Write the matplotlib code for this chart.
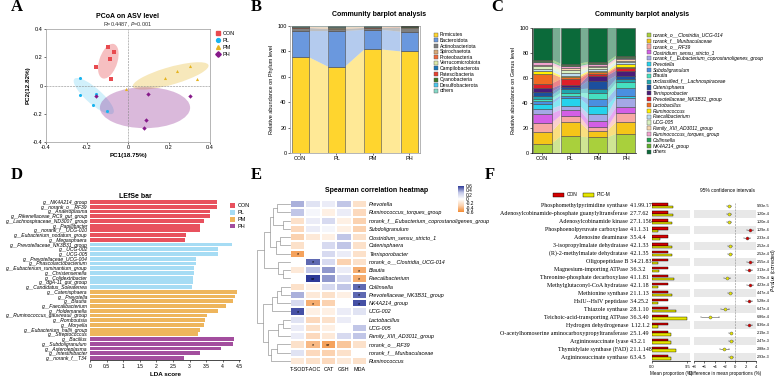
import matplotlib.pyplot as plt
import numpy as np
from matplotlib.patches import Ellipse, Patch
from matplotlib.lines import Line2D
from matplotlib.colors import LinearSegmentedColormap

# ---------------- data ----------------
groups = ["CON", "PL", "PM", "PH"]

# A: PCoA
con_pc1 = [-0.096, -0.067, -0.088, -0.158, -0.085]
con_pc2 = [0.275, 0.234, 0.189, 0.130, 0.046]
pl_pc1 = [-0.234, -0.236, -0.158, -0.169, -0.101]
pl_pc2 = [0.056, -0.065, -0.060, -0.139, -0.179]
pm_pc1 = [-0.010, 0.179, 0.239, 0.301, 0.335]
pm_pc2 = [-0.027, 0.056, 0.101, 0.141, 0.049]
ph_pc1 = [-0.156, 0.096, 0.302, 0.086, 0.078]
ph_pc2 = [-0.072, -0.063, -0.075, -0.243, -0.298]
# ellipse centre x, centre y, width, height, angle
ell_cx = [-0.096, -0.167, 0.208, 0.083]
ell_cy = [0.172, -0.075, 0.068, -0.157]
ell_w = [0.25, 0.31, 0.40, 0.44]
ell_h = [0.09, 0.09, 0.12, 0.29]
ell_ang = [79, -54, 23.5, 0]

# B: phylum
phyla = ["Firmicutes", "Bacteroidota", "Actinobacteriota", "Spirochaetota",
         "Proteobacteria", "Verrucomicrobiota", "Campilobacterota",
         "Patescibacteria", "Cyanobacteria", "Desulfobacterota", "others"]
phylum_vals = [
    [75.5, 68.0, 81.5, 80.0],
    [20.5, 28.0, 15.5, 15.5],
    [2.4, 1.6, 1.5, 3.3],
    [0.3, 0.8, 0.2, 0.2],
    [0.3, 0.3, 0.3, 0.3],
    [0.2, 0.4, 0.2, 0.1],
    [0.1, 0.2, 0.1, 0.1],
    [0.1, 0.1, 0.1, 0.1],
    [0.1, 0.1, 0.1, 0.1],
    [0.1, 0.1, 0.1, 0.1],
    [0.4, 0.4, 0.4, 0.2],
]
phylum_colors = ["#FFD52E", "#6A98DE", "#7F7F7F", "#D8A978", "#F06A3C", "#DDE8A8",
                 "#1A75B8", "#E8412F", "#3C7A26", "#4DC8EE", "#86D9C8"]

# C: genus
genera = ["norank_o__Clostridia_UCG-014", "norank_f__Muribaculaceae", "norank_o__RF39",
          "Clostridium_sensu_stricto_1", "norank_f__Eubacterium_coprostanoligenes_group",
          "Prevotella", "Subdoligranulum", "Blautia", "unclassified_f__Lachnospiraceae",
          "Catenisphaera", "Terrisporobacter", "Prevotellaceae_NK3B31_group",
          "Lactobacillus", "Ruminococcus", "Faecalibacterium", "UCG-005",
          "Family_XIII_AD3011_group", "Ruminococcus_torques_group", "Collinsella",
          "NK4A214_group", "others"]
genus_vals = [
    [7.5, 13.3, 12.5, 15.5],
    [9.3, 11.2, 5.5, 9.5],
    [7.2, 5.5, 2.5, 7.0],
    [7.5, 4.5, 5.5, 5.0],
    [4.0, 3.5, 5.0, 7.0],
    [3.5, 6.0, 7.0, 2.0],
    [2.5, 2.0, 5.5, 6.0],
    [2.0, 2.0, 4.5, 4.5],
    [2.5, 3.0, 3.5, 3.0],
    [2.7, 2.0, 6.5, 2.5],
    [3.0, 1.5, 4.0, 4.0],
    [3.8, 4.5, 1.5, 2.0],
    [8.0, 1.5, 1.0, 1.0],
    [1.8, 1.5, 1.0, 2.0],
    [2.0, 2.0, 1.5, 1.5],
    [2.0, 2.5, 1.5, 1.5],
    [1.2, 1.5, 1.0, 1.0],
    [2.0, 1.5, 1.5, 1.0],
    [1.0, 1.0, 1.0, 1.0],
    [1.3, 1.0, 1.0, 1.0],
    [25.2, 28.5, 27.0, 22.0],
]
genus_colors = ["#A9D03C", "#F5C518", "#F7A8A4", "#D35FE6", "#A4A8E6", "#25D2EC",
                "#4A8FE0", "#45E0C0", "#1FA6AE", "#1B4F9E", "#4A1B78", "#DD1F2A",
                "#F06A22", "#FFF000", "#BCDDF0", "#D8F0C0", "#F7D6AE", "#F2A2CE",
                "#1FA050", "#5FAE2E", "#0B6A3A"]

# D: LEfSe
lefse_names = ["NK4A214_group", "norank_o__RF39", "Anaeroplasma", "Rikenellaceae_RC9_gut_group",
               "Lachnospiraceae_ND3007_group", "Papillibacter", "norank_f__UCG-010",
               "Eubacterium_nodatum_group", "Megasphaera",
               "Prevotellaceae_NK3B31_group", "UCG-002", "UCG-005", "Prevotellaceae_UCG-004",
               "Phascolarctobacterium", "Eubacterium_ruminantium_group", "Christensenella",
               "Colidextribacter", "dgA-11_gut_group", "Candidatus_Soleaferrea",
               "Catenisphaera", "Prevotella", "Blautia", "Faecalibacterium", "Holdemanella",
               "Ruminococcus_gauvreauii_group", "Romboutsia", "Moryella",
               "Eubacterium_hallii_group", "Streptococcus",
               "Bacillus", "Subdoligranulum", "Asteroleplasma", "Intestinibacter", "norank_f__T34"]
lefse_lda = [3.82, 3.82, 3.61, 3.61, 3.43, 3.31, 3.31, 2.89, 2.86,
             4.29, 3.85, 3.85, 3.18, 3.18, 3.13, 3.12, 3.11, 3.09, 3.07,
             4.42, 4.37, 4.30, 4.09, 3.85, 3.54, 3.46, 3.43, 3.32, 3.25,
             4.35, 4.31, 3.95, 3.31, 2.83]
lefse_group = ["CON"] * 9 + ["PL"] * 10 + ["PM"] * 10 + ["PH"] * 5
lefse_colors = {"CON": "#E8515E", "PL": "#A6DCF4", "PM": "#EEB55C", "PH": "#A34E9E"}

# E: Spearman heatmap
heat_rows = ["Prevotella", "Ruminococcus_torques_group",
             "norank_f__Eubacterium_coprostanoligenes_group", "Subdoligranulum",
             "Clostridium_sensu_stricto_1", "Catenisphaera", "Terrisporobacter",
             "norank_o__Clostridia_UCG-014", "Blautia", "Faecalibacterium", "Collinsella",
             "Prevotellaceae_NK3B31_group", "NK4A214_group", "UCG-002", "Lactobacillus",
             "UCG-005", "Family_XIII_AD3011_group", "norank_o__RF39",
             "norank_f__Muribaculaceae", "Ruminococcus"]
heat_cols = ["T-SOD", "T-AOC", "CAT", "GSH", "MDA"]
t_sod = [0.35, 0.30, -0.20, -0.25, -0.30, -0.20, -0.50, 0.00, -0.15, 0.00,
         -0.20, 0.35, 0.20, 0.55, 0.15, 0.10, 0.10, -0.20, 0.15, -0.15]
t_aoc = [0.15, 0.05, 0.10, 0.10, -0.15, 0.00, 0.00, 0.50, 0.30, 0.65,
         -0.10, -0.15, -0.45, -0.10, -0.25, -0.20, -0.25, -0.40, -0.25, -0.20]
cat = [0.10, -0.10, 0.20, 0.05, -0.10, 0.20, 0.20, 0.20, 0.40, 0.40,
       0.20, -0.20, -0.30, -0.10, -0.20, -0.10, -0.15, -0.50, -0.30, -0.25]
gsh = [0.30, 0.10, -0.10, -0.10, 0.30, 0.30, 0.10, -0.30, 0.10, 0.20,
       0.30, -0.10, 0.00, 0.10, 0.10, 0.00, 0.20, -0.35, -0.20, -0.15]
mda = [-0.20, -0.25, -0.30, -0.30, -0.20, -0.20, -0.20, -0.20, -0.45, -0.45,
       0.50, 0.50, 0.55, 0.15, 0.00, 0.30, 0.30, -0.20, 0.00, -0.20]
sig_rows = [6, 7, 8, 9, 9, 10, 11, 12, 12, 13, 17, 17]
sig_cols = [0, 1, 4, 1, 4, 4, 4, 1, 4, 0, 1, 2]
sig_marks = ["*", "*", "*", "**", "*", "*", "*", "*", "*", "*", "*", "**"]
# dendrogram merges: (left, right, height), new clusters numbered from 20
merges = [(0, 1, 0.40), (2, 3, 0.22), (20, 21, 0.52), (4, 5, 0.30), (23, 6, 0.42),
          (22, 24, 0.60), (8, 9, 0.20), (7, 26, 0.36), (25, 27, 0.78), (10, 11, 0.26),
          (29, 12, 0.38), (30, 13, 0.55), (14, 15, 0.22), (32, 16, 0.36), (17, 18, 0.40),
          (34, 19, 0.58), (33, 35, 0.68), (31, 36, 0.82), (28, 37, 1.00)]

# F: STAMP
enz_names = ["Phosphomethylpyrimidine synthase", "Adenosylcobinamide-phosphate guanylyltransferase",
             "Adenosylcobinamide kinase", "Phosphoenolpyruvate carboxylase", "Adenosine deaminase",
             "3-isopropylmalate dehydratase", "(R)-2-methylmalate dehydratase", "Oligopeptidase B",
             "Magnesium-importing ATPase", "Threonine-phosphate decarboxylase",
             "Methylglutaconyl-CoA hydratase", "Methionine synthase", "HslU--HslV peptidase",
             "Thiazole synthase", "Teichoic-acid-transporting ATPase", "Hydrogen dehydrogenase",
             "O-acetylhomoserine aminocarboxypropyltransferase", "Argininosuccinate lyase",
             "Thymidylate synthase (FAD)", "Argininosuccinate synthase"]
enz_ec = ["4.1.99.17", "2.7.7.62", "2.7.1.156", "4.1.1.31", "3.5.4.4", "4.2.1.33", "4.2.1.35",
          "3.4.21.83", "3.6.3.2", "4.1.1.81", "4.2.1.18", "2.1.1.13", "3.4.25.2", "2.8.1.10",
          "3.6.3.40", "1.12.1.2", "2.5.1.49", "4.3.2.1", "2.1.1.148", "6.3.4.5"]
con_mean = [4.4, 4.4, 4.3, 4.4, 4.3, 4.4, 4.4, 4.4, 4.4, 4.3,
            4.4, 4.3, 4.4, 4.4, 4.4, 4.4, 4.3, 4.3, 4.4, 4.3]
picm_mean = [5.6, 5.6, 5.5, 1.5, 2.1, 5.4, 5.4, 1.5, 1.8, 5.9,
             1.5, 5.3, 1.7, 6.4, 9.3, 1.7, 5.2, 5.2, 6.5, 5.2]
diff_mean = [-1.2, -1.2, -1.2, 2.9, 2.2, -1.0, -1.0, 2.9, 2.6, -1.6,
             2.9, -1.0, 2.7, -2.0, -4.9, 2.7, -0.9, -0.9, -2.1, -0.9]
diff_ci = [0.35, 0.35, 0.35, 0.6, 0.6, 0.35, 0.35, 0.6, 0.6, 0.6,
           0.6, 0.35, 0.6, 0.75, 1.8, 0.6, 0.35, 0.4, 0.8, 0.4]
p_values = ["9.93e-5", "1.20e-4", "1.20e-4", "1.29e-4", "2.33e-4", "2.52e-4", "2.52e-4",
            "2.55e-4", "3.13e-4", "3.70e-4", "4.23e-4", "4.47e-4", "5.28e-4", "6.47e-4",
            "6.86e-4", "8.36e-4", "2.19e-3", "2.47e-3", "2.88e-3", "2.93e-3"]

# ---------------- figure ----------------
W, H = 778, 379
plt.rcParams["font.family"] = ["Liberation Sans", "DejaVu Sans"]
plt.rcParams["axes.linewidth"] = 0.5
fig = plt.figure(figsize=(W / 100, H / 100), dpi=100)


def add_ax(x0, y0, x1, y1):
    return fig.add_axes([x0 / W, 1 - y1 / H, (x1 - x0) / W, (y1 - y0) / H])


def ftext(x, y, s, **kw):
    fig.text(x / W, 1 - y / H, s, **kw)


def small_ticks(ax, size=4):
    ax.tick_params(labelsize=size, length=1.5, width=0.4, pad=1)


for letter, (lx, ly) in zip("ABCDEF", [(17, 7), (256, 7), (497, 7), (17, 175), (256, 175), (490, 175)]):
    ftext(lx, ly, letter, fontsize=12, fontweight="bold", family="Liberation Serif",
          ha="center", va="center")

# ---- A ----
pc_colors = ["#E84A4F", "#19B4EF", "#E5B420", "#86198A"]
pc_markers = ["s", "o", "^", "D"]
pc1 = [con_pc1, pl_pc1, pm_pc1, ph_pc1]
pc2 = [con_pc2, pl_pc2, pm_pc2, ph_pc2]
ell_alpha = [0.35, 0.2, 0.3, 0.3]
axA = add_ax(46, 29, 210, 142)
for i in range(4):
    axA.add_patch(Ellipse((ell_cx[i], ell_cy[i]), ell_w[i], ell_h[i], angle=ell_ang[i],
                          facecolor=pc_colors[i], alpha=ell_alpha[i], lw=0))
for i in range(4):
    axA.scatter(pc1[i], pc2[i], s=5, marker=pc_markers[i], color=pc_colors[i], lw=0, zorder=3)
axA.axhline(0, ls="--", color="#888888", lw=0.4)
axA.axvline(0, ls="--", color="#888888", lw=0.4)
axA.set_xlim(-0.4, 0.4)
axA.set_ylim(-0.4, 0.4)
tk = [-0.4, -0.2, 0, 0.2, 0.4]
axA.set_xticks(tk, ["-0.4", "-0.2", "0", "0.2", "0.4"])
axA.set_yticks(tk, ["-0.4", "-0.2", "0", "0.2", "0.4"])
small_ticks(axA)
for s in axA.spines.values():
    s.set_color("#999999")
axA.set_xlabel("PC1(18.75%)", fontsize=4.5, fontweight="bold", labelpad=1.5)
axA.set_ylabel("PC2(12.82%)", fontsize=4.5, fontweight="bold", labelpad=1.5)
ftext(128, 17, "PCoA on ASV level", fontsize=5, fontweight="bold", ha="center", va="center")
ftext(128, 24.5, r"R=0.4487, $\it{P}$=0.001", fontsize=4, ha="center", va="center", color="#333333")
hA = [Line2D([], [], marker=m, color=c, ls="", markersize=2.8) for m, c in zip(pc_markers, pc_colors)]
fig.legend(hA, groups, loc="upper left", bbox_to_anchor=(213 / W, 1 - 28 / H), fontsize=4,
           frameon=False, handlelength=0.8, handletextpad=0.4, labelspacing=0.35, borderpad=0)


def alluvial(ax, vals_list, colors, width, alpha):
    xs = np.arange(len(groups))
    bottoms = np.zeros(len(groups))
    for vals, c in zip(vals_list, colors):
        vals = np.array(vals, dtype=float)
        ax.bar(xs, vals, width, bottom=bottoms, color=c, edgecolor="#4A4A4A", linewidth=0.4, zorder=3)
        for i in range(len(xs) - 1):
            xa = xs[i] + width / 2
            xb = xs[i + 1] - width / 2
            ax.fill([xa, xb, xb, xa],
                    [bottoms[i], bottoms[i + 1], bottoms[i + 1] + vals[i + 1], bottoms[i] + vals[i]],
                    color=c, alpha=alpha, lw=0, zorder=2)
        bottoms += vals


# ---- B ----
axB = add_ax(290, 26, 420, 153)
alluvial(axB, phylum_vals, phylum_colors, 0.47, 0.5)
axB.set_xlim(-0.28, 3.3)
axB.set_ylim(0, 100)
axB.set_xticks(range(4), groups)
axB.set_yticks([0, 20, 40, 60, 80, 100])
small_ticks(axB)
for s in axB.spines.values():
    s.set_color("#999999")
axB.set_ylabel("Relative abundance on Phylum level", fontsize=4, labelpad=2)
ftext(379, 15, "Community barplot analysis", fontsize=5, fontweight="bold", ha="center", va="center")
hB = [Patch(facecolor=c, edgecolor="#555555", lw=0.3) for c in phylum_colors]
fig.legend(hB, phyla, loc="upper left", bbox_to_anchor=(431 / W, 1 - 30 / H), fontsize=3.6,
           frameon=False, handlelength=0.9, handleheight=0.9, handletextpad=0.3,
           labelspacing=0.12, borderpad=0)

# ---- C ----
axC = add_ax(532, 28, 636, 153)
alluvial(axC, genus_vals, genus_colors, 0.68, 0.55)
axC.set_xlim(-0.36, 3.36)
axC.set_ylim(0, 100)
axC.set_xticks(range(4), groups)
axC.set_yticks([0, 20, 40, 60, 80, 100])
small_ticks(axC)
axC.spines["top"].set_visible(False)
axC.spines["right"].set_visible(False)
axC.set_ylabel("Relative abundance on Genus level", fontsize=4, labelpad=2)
ftext(642, 15, "Community barplot analysis", fontsize=5, fontweight="bold", ha="center", va="center")
hC = [Patch(facecolor=c, edgecolor="#555555", lw=0.3) for c in genus_colors]
fig.legend(hC, genera, loc="upper left", bbox_to_anchor=(644 / W, 1 - 30 / H),
           frameon=False, handlelength=0.9, handleheight=0.9, handletextpad=0.3,
           labelspacing=0.17, borderpad=0, prop={"style": "italic", "size": 3.6})

# ---- D ----
axD = add_ax(90, 199.6, 240, 360.4)
yD = np.arange(len(lefse_names))
axD.barh(yD, lefse_lda, height=0.8, color=[lefse_colors[g] for g in lefse_group])
axD.set_ylim(len(lefse_names) - 0.5, -0.5)
axD.set_xlim(0, 4.52)
axD.set_yticks(yD, ["g__" + n for n in lefse_names], fontstyle="italic")
axD.set_xticks(np.arange(0, 4.6, 0.5), ["0", "0.5", "1", "1.5", "2", "2.5", "3", "3.5", "4", "4.5"])
small_ticks(axD, 3.6)
axD.tick_params(axis="y", length=0, pad=1.5)
for s in ["top", "right", "left"]:
    axD.spines[s].set_visible(False)
axD.set_xlabel("LDA score", fontsize=4.5, fontweight="bold", labelpad=2)
ftext(135, 196, "LEfSe bar", fontsize=5, fontweight="bold", ha="center", va="center")
hD = [Patch(facecolor=lefse_colors[g]) for g in groups]
axD.legend(hD, groups, loc="upper left", bbox_to_anchor=(0.915, 0.995), fontsize=4, frameon=False,
           handlelength=0.9, handleheight=0.9, handletextpad=0.4, labelspacing=0.3, borderpad=0)

# ---- E ----
heat = np.array([t_sod, t_aoc, cat, gsh, mda]).T
cmapE = LinearSegmentedColormap.from_list("ob", ["#F28A32", "#FBD2B0", "#FFFFFF", "#C3C8E8", "#2E3A98"])
axE = add_ax(290, 200, 367, 365)
mesh = axE.pcolormesh(heat, cmap=cmapE, vmin=-0.6, vmax=0.6, edgecolors="white", linewidth=0.3)
axE.set_ylim(len(heat_rows), 0)
axE.set_xlim(0, len(heat_cols))
axE.set_xticks(np.arange(len(heat_cols)) + 0.5, heat_cols)
axE.set_yticks(np.arange(len(heat_rows)) + 0.5, heat_rows, fontstyle="italic")
axE.yaxis.tick_right()
small_ticks(axE, 3.9)
axE.tick_params(length=0, pad=1.5)
for s in axE.spines.values():
    s.set_visible(False)
for r, c, m in zip(sig_rows, sig_cols, sig_marks):
    axE.text(c + 0.5, r + 0.62, m, ha="center", va="center", fontsize=4)
ftext(377, 190, "Spearman correlation heatmap", fontsize=5, fontweight="bold", ha="center", va="center")

axDn = add_ax(257, 200, 290, 365)
n = len(heat_rows)
node_y = {i: i + 0.5 for i in range(n)}
node_h = {i: 0.0 for i in range(n)}
for k, (a, b, h) in enumerate(merges):
    axDn.plot([node_h[a], h, h, node_h[b]], [node_y[a], node_y[a], node_y[b], node_y[b]],
              color="#999999", lw=0.5, clip_on=False)
    node_y[n + k] = (node_y[a] + node_y[b]) / 2
    node_h[n + k] = h
axDn.set_xlim(1.0, 0)
axDn.set_ylim(n, 0)
axDn.axis("off")

cax = add_ax(458, 186, 464, 212)
cb = fig.colorbar(mesh, cax=cax, ticks=[-0.6, -0.4, -0.2, 0, 0.2, 0.4, 0.6])
cb.outline.set_visible(False)
cb.ax.set_yticklabels(["-0.6", "-0.4", "-0.2", "0", "0.2", "0.4", "0.6"])
cb.ax.tick_params(labelsize=3.5, length=0, pad=1)

# ---- F ----
serif = "Liberation Serif"
nF = len(enz_names)
yF = np.arange(nF)
axF = add_ax(652, 201.7, 690, 361.3)
axCI = add_ax(694, 201.7, 756, 361.3)
for ax in (axF, axCI):
    for i in yF[1::2]:
        ax.axhspan(i - 0.5, i + 0.5, color="#E8E8E8", lw=0, zorder=0)
    ax.set_ylim(nF - 0.5, -0.5)
    ax.set_yticks([])
    for s in ["top", "right", "left"]:
        ax.spines[s].set_visible(False)
    small_ticks(ax, 3.0)
axF.barh(yF - 0.18, con_mean, height=0.34, color="#D40000", edgecolor="black", lw=0.3, zorder=2)
axF.barh(yF + 0.18, picm_mean, height=0.34, color="#E6E600", edgecolor="black", lw=0.3, zorder=2)
axF.set_xlim(0, 10.2)
axF.set_xticks([0, 9.5], ["0.0", "9.5"])
axF.set_xlabel("Mean proportion (%)", fontsize=3.3, labelpad=1.5)
for i in yF:
    axF.text(-24 / 38 * 10.2, i, enz_names[i], ha="right", va="center", fontsize=4.3, family=serif)
    axF.text(-22 / 38 * 10.2, i, enz_ec[i], ha="left", va="center", fontsize=4.3, family=serif)

axCI.axvline(0, ls="--", color="#888888", lw=0.4, zorder=1)
for i in yF:
    col = "#E6E600" if diff_mean[i] < 0 else "#D40000"
    axCI.errorbar(diff_mean[i], i, xerr=diff_ci[i], fmt="o", ms=2.2, mfc=col, mec="#555555",
                  mew=0.3, ecolor="#555555", elinewidth=0.4, capsize=0.8, capthick=0.4, zorder=3)
    axCI.text(1.015, i, p_values[i], transform=axCI.get_yaxis_transform(), ha="left", va="center",
              fontsize=2.7)
axCI.set_xlim(-8, 4)
axCI.set_xticks([-8, -6, -4, -2, 0, 2, 4])
axCI.set_xlabel("Difference in mean proportions (%)", fontsize=3.3, labelpad=1.5)
ftext(727, 190, "95% confidence intervals", fontsize=3.5, ha="center", va="center")
ftext(773.8, 270, r"$\it{P}$-value (corrected)", fontsize=3.6, rotation=90, ha="center", va="center")
hF = [Patch(facecolor="#D40000", edgecolor="black", lw=0.3),
      Patch(facecolor="#E6E600", edgecolor="black", lw=0.3)]
fig.legend(hF, ["CON", "PIC-M"], loc="upper left", bbox_to_anchor=(551 / W, 1 - 190 / H), ncol=2,
           fontsize=3.5, frameon=False, handlelength=2.2, handleheight=0.8, handletextpad=0.5,
           columnspacing=1.2, borderpad=0)

fig.savefig("out.png", dpi=100)
